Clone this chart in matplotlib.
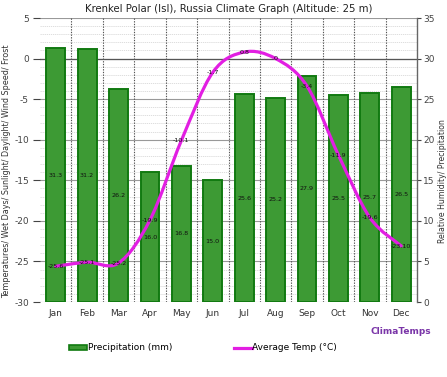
import matplotlib
matplotlib.use("Agg")
import matplotlib.pyplot as plt
import numpy as np
from matplotlib.path import Path
from matplotlib.patches import PathPatch, Patch
from matplotlib.lines import Line2D

plt.rcParams['axes.unicode_minus'] = False
plt.rcParams['font.family'] = ['DejaVu Sans']

months = ["Jan", "Feb", "Mar", "Apr", "May", "Jun", "Jul", "Aug", "Sep", "Oct", "Nov", "Dec"]
precip = [31.3, 31.2, 26.2, 16.0, 16.8, 15.0, 25.6, 25.2, 27.9, 25.5, 25.7, 26.5]
temp = [-25.6, -25.1, -25.2, -19.9, -10.1, -1.7, 0.8, 0, -3.4, -11.9, -19.6, -23.1]
temp_labels = ["-25.6", "-25.1", "-25.2", "-19.9", "-10.1", "-1.7", "0.8", "0", "-3.4", "-11.9", "-19.6", "-23.10"]

BAR_FACE = "#3d9a34"
BAR_EDGE = "#117a11"
LINE_COL = "#e21ee2"

fig = plt.figure(figsize=(4.47, 3.77), dpi=100)
ax = fig.add_axes([40/447, 1-302/377, 377/447, 284/377])
ax2 = ax.twinx()

# bars live on the right axis, drawn under the temperature axis
ax2.set_zorder(1)
ax.set_zorder(2)
ax.patch.set_visible(False)
ax2.patch.set_visible(True)
ax2.patch.set_facecolor("white")

x = np.arange(len(months))
ax2.bar(x, precip, width=0.6, color=BAR_FACE, edgecolor=BAR_EDGE, linewidth=1.4, zorder=3)
for xi, p in zip(x, precip):
    ax2.text(xi, p/2, "%.1f" % p, ha="center", va="center", fontsize=4.6, color="#111111", zorder=4)

ax2.set_ylim(0, 35)
ax2.set_yticks(np.arange(0, 36, 5))
ax2.set_yticks(np.arange(0, 36, 1), minor=True)
ax2.set_axisbelow(True)
ax2.yaxis.grid(True, which="minor", color="#d8d8d8", linestyle=(0, (1.5, 1)), linewidth=0.6)
ax2.yaxis.grid(True, which="major", color="#999999", linestyle="-", linewidth=0.8)
ax2.axhline(30, color="#555555", linewidth=0.9, zorder=1)
ax2.tick_params(axis="y", which="major", labelsize=6.5, colors="#444444", length=3, width=0.8, pad=1.5)
ax2.tick_params(axis="y", which="minor", length=0)
for s in ["top", "bottom", "left"]:
    ax2.spines[s].set_visible(False)
ax2.spines["right"].set_color("#666666")
ax2.spines["right"].set_linewidth(1.0)
ax2.set_ylabel("Relative Humidity/ Precipitation", fontsize=5.6, color="#333333")
ax2.yaxis.set_label_coords(1.057, 0.426)

# vertical month separators
for b in np.arange(0.5, 11.5, 1):
    ax2.axvline(b, color="#555555", linestyle=(0, (1.2, 1.2)), linewidth=0.8, zorder=1)

# smooth temperature curve (Catmull-Rom through the monthly values)
pts = np.column_stack([x, temp]).astype(float)
verts = [pts[0]]
codes = [Path.MOVETO]
for i in range(len(pts) - 1):
    p0 = pts[i-1] if i > 0 else pts[i]
    p1 = pts[i]
    p2 = pts[i+1]
    p3 = pts[i+2] if i + 2 < len(pts) else pts[i+1]
    verts += [p1 + (p2 - p0)/6, p2 - (p3 - p1)/6, p2]
    codes += [Path.CURVE4]*3
ax.add_patch(PathPatch(Path(verts, codes), facecolor="none", edgecolor=LINE_COL,
                       linewidth=2.3, capstyle="round", zorder=5))
for xi, t, lab in zip(x, temp, temp_labels):
    ax.text(xi, t, lab, ha="center", va="center", fontsize=4.6, color="#111111", zorder=6)

ax.set_xlim(-0.5, 11.5)
ax.set_ylim(-30, 5)
ax.set_yticks(np.arange(-30, 6, 5))
ax.set_xticks(x)
ax.set_xticklabels(months)
ax.tick_params(axis="x", length=0, labelsize=6.5, colors="#333333", pad=5)
ax.tick_params(axis="y", labelsize=6.5, colors="#444444", length=5, width=0.8, pad=3)
for s in ax.spines.values():
    s.set_visible(False)
ax.set_ylabel("Temperatures/ Wet Days/ Sunlight/ Daylight/ Wind Speed/ Frost",
              fontsize=5.8, color="#333333")
ax.yaxis.set_label_coords(-0.077, 0.46)
ax.set_title("Krenkel Polar (Isl), Russia Climate Graph (Altitude: 25 m)",
             fontsize=7.3, color="#222222", pad=4)

fig.text(431/447, 1-332/377, "ClimaTemps", ha="right", va="center", fontsize=6.5,
         fontweight="bold", color="#7a35a8")

handles = [Patch(facecolor=BAR_FACE, edgecolor=BAR_EDGE, linewidth=1.2),
           Line2D([0], [0], color=LINE_COL, linewidth=2.3)]
fig.legend(handles, ["Precipitation (mm)", "Average Temp (°C)"], loc="center",
           bbox_to_anchor=(203/447, 1-348/377), ncol=2, frameon=False, fontsize=6.5,
           handlelength=2.0, handleheight=0.5, handletextpad=0.1, columnspacing=6.8)

fig.savefig("out.png", dpi=100, facecolor="white")
